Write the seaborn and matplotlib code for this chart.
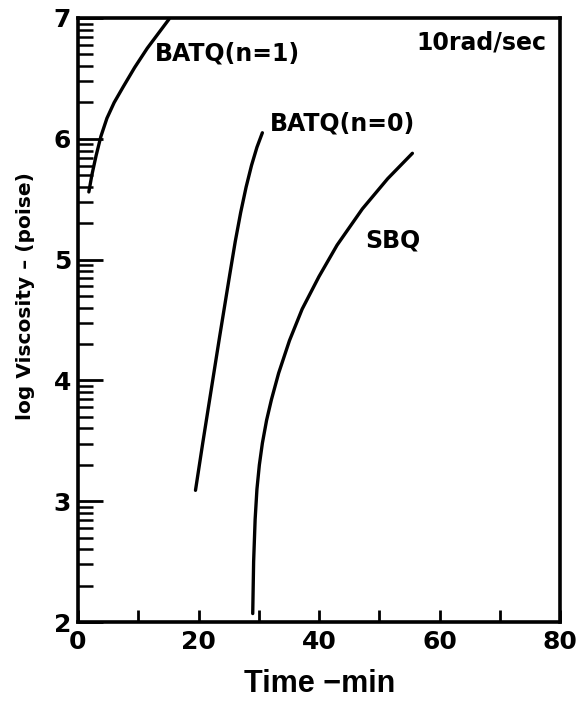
import numpy as np
import pandas as pd
import matplotlib
matplotlib.use('Agg')
import matplotlib.pyplot as plt
import seaborn as sns

# curves (time in min, log viscosity)
batq1_t = [1.8, 2.3, 3.0, 3.8, 4.8, 6.0, 7.5, 9.4, 11.5, 13.3, 15.1]
batq1_v = [5.56, 5.70, 5.86, 6.02, 6.17, 6.30, 6.43, 6.59, 6.75, 6.87, 6.99]

batq0_t = [19.5, 20.7, 22.1, 23.5, 25.2, 26.1, 27.0, 27.9, 28.8, 29.7, 30.6]
batq0_v = [3.09, 3.48, 3.92, 4.36, 4.88, 5.15, 5.39, 5.60, 5.78, 5.93, 6.05]

sbq_t = [29.0, 29.15, 29.4, 29.7, 30.1, 30.6, 31.3, 32.1, 33.3, 35.1,
         37.2, 40.0, 43.0, 47.2, 51.4, 55.5]
sbq_v = [2.07, 2.50, 2.85, 3.10, 3.30, 3.48, 3.67, 3.84, 4.06, 4.33,
         4.59, 4.86, 5.12, 5.42, 5.67, 5.88]

curve_labels = ['BATQ(n=1)', 'BATQ(n=0)', 'SBQ']
label_pos = [(12.8, 6.71), (31.8, 6.13), (47.6, 5.16)]

sns.set_style('ticks')
plt.rcParams['font.family'] = ['DejaVu Sans']
plt.rcParams['font.weight'] = 'bold'
for k in ['text.color', 'axes.edgecolor', 'axes.labelcolor', 'xtick.color', 'ytick.color']:
    plt.rcParams[k] = 'black'

df = pd.concat([
    pd.DataFrame({'t': batq1_t, 'v': batq1_v, 'curve': curve_labels[0]}),
    pd.DataFrame({'t': batq0_t, 'v': batq0_v, 'curve': curve_labels[1]}),
    pd.DataFrame({'t': sbq_t, 'v': sbq_v, 'curve': curve_labels[2]}),
])

fig = plt.figure(figsize=(5.86, 7.03), dpi=100)
ax = fig.add_axes([78 / 586, 81 / 703, 482 / 586, 604 / 703])

for name in curve_labels:
    sub = df[df['curve'] == name]
    sns.lineplot(data=sub, x='t', y='v', ax=ax, color='black', lw=2.4,
                 sort=False, estimator=None, legend=False,
                 solid_joinstyle='round', solid_capstyle='round')

for name, (x, y) in zip(curve_labels, label_pos):
    ax.text(x, y, name, fontsize=17, fontweight='bold', ha='left', va='center')
ax.text(77.8, 6.80, '10rad/sec', fontsize=17, fontweight='bold', ha='right', va='center')

ax.set_xlim(0, 80)
ax.set_ylim(2, 7)
ax.set_xticks([0, 20, 40, 60, 80])
ax.set_xticks([10, 30, 50, 70], minor=True)
ax.set_yticks([2, 3, 4, 5, 6, 7])
minor_y = [n + np.log10(k) for n in range(2, 7) for k in range(2, 10)]
ax.set_yticks(minor_y, minor=True)

ax.tick_params(axis='both', which='major', direction='in', width=2, labelsize=18)
ax.tick_params(axis='y', which='major', length=18, pad=5)
ax.tick_params(axis='y', which='minor', direction='in', length=11, width=1.8)
ax.tick_params(axis='x', which='major', length=9, pad=6)
ax.tick_params(axis='x', which='minor', direction='in', length=9, width=2)
for lab in ax.get_xticklabels() + ax.get_yticklabels():
    lab.set_fontweight('bold')

for s in ax.spines.values():
    s.set_linewidth(2.6)
    s.set_visible(True)

ax.set_xlabel('Time \u2212min', fontsize=22, fontweight='bold',
              family=['Liberation Sans', 'DejaVu Sans'])
ax.xaxis.set_label_coords(0.502, -0.078)
ax.set_ylabel('log Viscosity \u2013 (poise)', fontsize=14.5, fontweight='bold')
ax.yaxis.set_label_coords(-0.089, 0.54)

fig.savefig('out.png', dpi=100)
